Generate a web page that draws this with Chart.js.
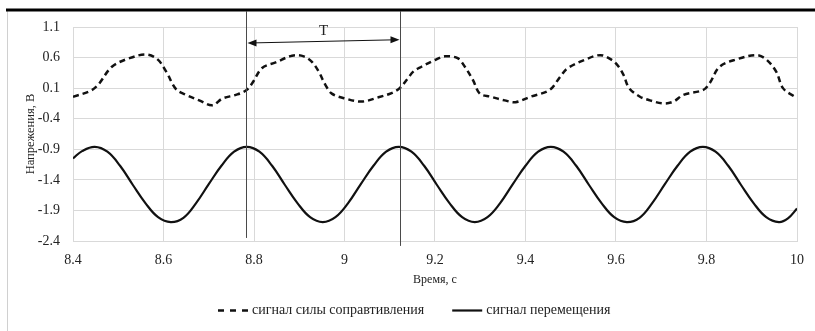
<!DOCTYPE html>
<html>
<head>
<meta charset="utf-8">
<script src="https://cdn.jsdelivr.net/npm/chart.js@4.4.1/dist/chart.umd.min.js"></script>
<style>
    html, body { margin: 0; padding: 0; background: #fff; }
    #wrap { width: 815px; height: 331px; position: relative; }
</style>
</head>
<body>
<div id="wrap"><canvas id="chart"></canvas></div>
<script>
const FONT = "'Liberation Serif', 'Times New Roman', serif";

// сигнал силы сопротивления (dashed)
const forceTime = [
    8.400, 8.437, 8.455, 8.486, 8.525, 8.562, 8.587, 8.606, 8.628, 8.650,
    8.679, 8.708, 8.730, 8.760, 8.782, 8.796, 8.818, 8.848, 8.884, 8.910,
    8.928, 8.943, 8.958, 8.972, 9.002, 9.038, 9.075, 9.104, 9.122, 9.140,
    9.152, 9.170, 9.200, 9.222, 9.250, 9.266, 9.284, 9.299, 9.323, 9.354,
    9.378, 9.411, 9.453, 9.477, 9.492, 9.530, 9.565, 9.591, 9.606, 9.617,
    9.629, 9.653, 9.675, 9.705, 9.727, 9.749, 9.793, 9.807, 9.829, 9.866,
    9.910, 9.932, 9.954, 9.969, 9.993, 10.000
];
const forceValues = [
    -0.04, 0.05, 0.15, 0.45, 0.59, 0.65, 0.57, 0.37, 0.08, -0.01,
    -0.10, -0.18, -0.07, -0.01, 0.06, 0.18, 0.43, 0.52, 0.63, 0.62,
    0.53, 0.37, 0.15, 0.01, -0.07, -0.12, -0.05, 0.02, 0.10, 0.26,
    0.37, 0.45, 0.56, 0.62, 0.59, 0.45, 0.23, 0.01, -0.04, -0.10,
    -0.13, -0.04, 0.07, 0.29, 0.42, 0.56, 0.64, 0.56, 0.45, 0.31,
    0.10, -0.04, -0.10, -0.15, -0.12, -0.01, 0.07, 0.18, 0.45, 0.57,
    0.64, 0.57, 0.37, 0.10, -0.03, -0.04
];

// сигнал перемещения (solid)
const dispTime = [
    8.400, 8.420, 8.448, 8.476, 8.504, 8.532, 8.560, 8.588, 8.616, 8.644,
    8.672, 8.700, 8.728, 8.756, 8.784, 8.812, 8.840, 8.868, 8.896, 8.924,
    8.952, 8.980, 9.008, 9.036, 9.064, 9.092, 9.120, 9.148, 9.176, 9.204,
    9.232, 9.260, 9.288, 9.316, 9.344, 9.372, 9.400, 9.428, 9.456, 9.484,
    9.512, 9.540, 9.568, 9.596, 9.624, 9.652, 9.680, 9.708, 9.736, 9.764,
    9.792, 9.820, 9.848, 9.876, 9.904, 9.932, 9.960, 9.980, 10.000
];
const dispValues = [
    -1.05, -0.93, -0.86, -0.94, -1.17, -1.48, -1.78, -2.01, -2.09, -2.02,
    -1.78, -1.47, -1.17, -0.94, -0.86, -0.94, -1.17, -1.48, -1.78, -2.01,
    -2.09, -2.01, -1.78, -1.47, -1.17, -0.94, -0.86, -0.94, -1.17, -1.48,
    -1.78, -2.01, -2.09, -2.01, -1.78, -1.47, -1.17, -0.94, -0.86, -0.94,
    -1.17, -1.48, -1.78, -2.01, -2.09, -2.02, -1.78, -1.47, -1.17, -0.94,
    -0.86, -0.94, -1.17, -1.48, -1.78, -2.01, -2.09, -2.03, -1.87
];

const seriesLabels = ['сигнал силы соправтивления', 'сигнал перемещения'];

// period marker T
const periodMarks = [8.782, 9.122];
const markBottoms = [-2.35, -2.48];
const arrowLevels = [0.84, 0.89];
const periodLabel = 'T';

const xTitle = 'Время, с';
const yTitle = 'Напрежения, В';

const frame = {
    id: 'frame',
    beforeDraw(chart) {
        const ctx = chart.ctx;
        ctx.save();
        ctx.fillStyle = '#fff';
        ctx.fillRect(0, 0, chart.width, chart.height);
        ctx.strokeStyle = '#d0d0d0';
        ctx.lineWidth = 1;
        ctx.beginPath();
        ctx.moveTo(7.5, 10);
        ctx.lineTo(7.5, chart.height);
        ctx.stroke();
        ctx.strokeStyle = '#000';
        ctx.lineWidth = 3;
        ctx.beginPath();
        ctx.moveTo(6, 10);
        ctx.lineTo(chart.width, 10);
        ctx.stroke();
        ctx.restore();
    }
};

const periodMarker = {
    id: 'periodMarker',
    afterDatasetsDraw(chart) {
        const ctx = chart.ctx;
        const x = chart.scales.x, y = chart.scales.y;
        const xs = periodMarks.map(v => Math.round(x.getPixelForValue(v)) + 0.5);
        const ys = arrowLevels.map(v => y.getPixelForValue(v));

        ctx.save();
        ctx.strokeStyle = '#4a4a4a';
        ctx.lineWidth = 1;
        xs.forEach((px, i) => {
            ctx.beginPath();
            ctx.moveTo(px, 11);
            ctx.lineTo(px, y.getPixelForValue(markBottoms[i]));
            ctx.stroke();
        });

        // arrow
        const x0 = xs[0] + 1, x1 = xs[1] - 1;
        ctx.strokeStyle = '#111';
        ctx.beginPath();
        ctx.moveTo(x0 + 6, ys[0]);
        ctx.lineTo(x1 - 6, ys[1]);
        ctx.stroke();
        ctx.fillStyle = '#111';
        ctx.beginPath();
        ctx.moveTo(x0, ys[0]);
        ctx.lineTo(x0 + 9, ys[0] - 3.5);
        ctx.lineTo(x0 + 9, ys[0] + 3.5);
        ctx.closePath();
        ctx.fill();
        ctx.beginPath();
        ctx.moveTo(x1, ys[1]);
        ctx.lineTo(x1 - 9, ys[1] - 3.5);
        ctx.lineTo(x1 - 9, ys[1] + 3.5);
        ctx.closePath();
        ctx.fill();

        ctx.font = '15px ' + FONT;
        ctx.textAlign = 'center';
        ctx.textBaseline = 'middle';
        ctx.fillStyle = '#222';
        ctx.fillText(periodLabel, (xs[0] + xs[1]) / 2, y.getPixelForValue(1.04));
        ctx.restore();
    }
};

const legendBox = {
    id: 'legendBox',
    afterDraw(chart) {
        const ctx = chart.ctx;
        const ly = 310.5;
        ctx.save();
        ctx.font = '14px ' + FONT;
        ctx.textBaseline = 'middle';
        ctx.fillStyle = '#222';
        let lx = 218;
        chart.data.datasets.forEach((ds, i) => {
            ctx.strokeStyle = ds.borderColor;
            ctx.lineWidth = ds.borderWidth;
            ctx.setLineDash(ds.borderDash ? [6, 6] : []);
            ctx.beginPath();
            ctx.moveTo(lx, ly);
            ctx.lineTo(lx + 30, ly);
            ctx.stroke();
            lx += 34;
            ctx.fillText(ds.label, lx, ly);
            lx += ctx.measureText(ds.label).width + 28;
        });
        ctx.restore();
    }
};

new Chart(document.getElementById('chart'), {
    type: 'line',
    data: {
        datasets: [
            {
                label: seriesLabels[0],
                data: forceTime.map((t, i) => ({ x: t, y: forceValues[i] })),
                borderColor: '#111',
                borderWidth: 2.5,
                borderDash: [6, 4],
                pointRadius: 0,
                tension: 0.35,
                fill: false
            },
            {
                label: seriesLabels[1],
                data: dispTime.map((t, i) => ({ x: t, y: dispValues[i] })),
                borderColor: '#111',
                borderWidth: 2.2,
                pointRadius: 0,
                tension: 0.4,
                fill: false
            }
        ]
    },
    options: {
        responsive: true,
        maintainAspectRatio: false,
        animation: false,
        layout: {
            padding: { left: 0, right: 14, top: 27, bottom: 40 }
        },
        plugins: {
            legend: { display: false },
            tooltip: { enabled: false }
        },
        scales: {
            x: {
                type: 'linear',
                min: 8.4,
                max: 10,
                afterFit: s => { s.height = 50; },
                grid: { color: '#d9d9d9', drawTicks: false },
                border: { color: '#d9d9d9' },
                ticks: {
                    stepSize: 0.2,
                    padding: 11,
                    color: '#222',
                    font: { family: FONT, size: 14 },
                    callback: v => String(Number(v.toFixed(1)))
                },
                title: {
                    display: true,
                    text: xTitle,
                    color: '#222',
                    font: { family: FONT, size: 12 },
                    padding: { top: 0, bottom: 4 }
                }
            },
            y: {
                min: -2.4,
                max: 1.1,
                afterFit: s => { s.width = 73; },
                grid: { color: '#d9d9d9', drawTicks: false },
                border: { color: '#d9d9d9' },
                ticks: {
                    stepSize: 0.5,
                    padding: 13,
                    color: '#222',
                    font: { family: FONT, size: 14 },
                    callback: v => v.toFixed(1)
                },
                title: {
                    display: true,
                    text: yTitle,
                    color: '#222',
                    font: { family: FONT, size: 12.5 },
                    padding: { top: 23, bottom: 0 }
                }
            }
        }
    },
    plugins: [frame, periodMarker, legendBox]
});
</script>
</body>
</html>
